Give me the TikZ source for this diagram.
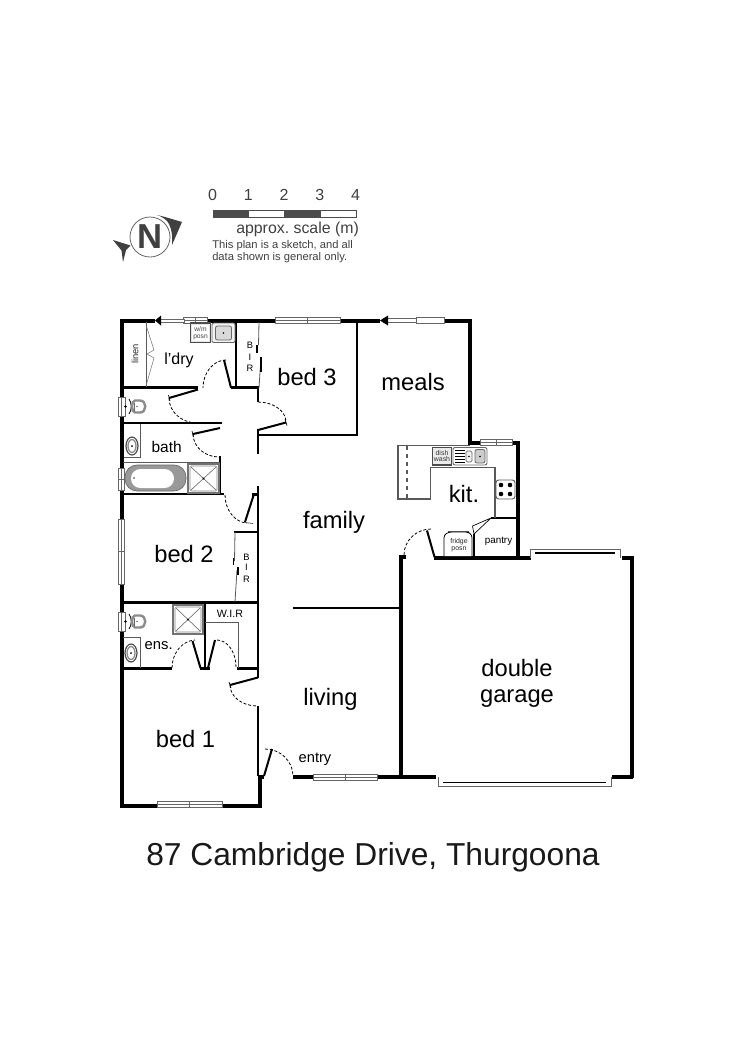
\documentclass[tikz,border=0pt]{standalone}
\usepackage{fontspec}
\setmainfont{Liberation Sans}
\usetikzlibrary{calc}
\newcommand{\fsz}[1]{\fontsize{#1}{#1}\selectfont}
\newcommand{\winh}[3]{% x1 x2 y
  \draw[winline,fill=white] (#1,#3-3) rectangle (#2,#3+3);
  \draw[winline,line width=.35pt] (#1,#3)--(#2,#3);
  \draw[winline] ({(#1+#2)/2},#3-3)--({(#1+#2)/2},#3+3);}
\newcommand{\winv}[3]{% y1 y2 x
  \draw[winline,fill=white] (#3-3,#1) rectangle (#3+3,#2);
  \draw[winline,line width=.35pt] (#3,#1)--(#3,#2);
  \draw[winline] (#3-3,{(#1+#2)/2})--(#3+3,{(#1+#2)/2});}
\newcommand{\swingarc}[3]{\draw[swing] (#1) .. controls ($(#1)!.55!(#2)$) and ($(#3)!.55!(#2)$) .. (#3);}
\newcommand{\wctoilet}[1]{% y-top of the unit; frame and pan
  \begin{scope}[shift={(0,#1)}]
  \draw[winline,fill=white] (118,0) rectangle (125,19);
  \draw[winline,line width=.4pt] (121.5,0)--(121.5,19);
  \fill[black] (125.5,9.5) circle (1.4);
  \draw[black,line width=.6pt] (129,2) .. controls (132,6) and (132,13) .. (129,17);
  \draw[black!45,line width=1.8pt,fill=white] (135,3.5) -- (140,3.5) .. controls (147,3.5) and (147,15.5) .. (140,15.5) -- (135,15.5) .. controls (131,15.5) and (131,3.5) .. cycle;
  \fill[black!55] (137,9.5) circle (.8);
  \draw[black!60,line width=.5pt] (134,5.5) -- (134,13.5);
  \end{scope}}
\newcommand{\basin}[2]{%
  \draw[black!70,line width=.9pt] (#1,#2) ellipse (6 and 9);
  \draw[black!45,line width=1pt] (#1,#2) ellipse (4 and 6.5);
  \fill[black] (#1,#2) circle (1);}
\newcommand{\showerbox}[4]{%
  \draw[line width=1.3pt,draw=black!55,fill=white] (#1,#2) rectangle (#3,#4);
  \draw[black!50,line width=.4pt,rounded corners=1pt] (#1+2,#2+2) rectangle (#3-2,#4-2);
  \draw[black!65,line width=.4pt] (#1+3,#2+3)--(#3-3,#4-3) (#3-3,#2+3)--(#1+3,#4-3);
  \fill[black] ({(#1+#3)/2},{(#2+#4)/2}) circle (1);}
\tikzset{
  outerwall/.style={line width=3pt,black,line cap=butt},
  innerwall/.style={line width=1.9pt,black,line cap=butt},
  leaf/.style={line width=1.5pt,black},
  swing/.style={line width=.6pt,black,dash pattern=on 2.2pt off 1.4pt},
  winline/.style={line width=.5pt,black!60},
  fix/.style={line width=.6pt,black!65},
  roomlabel/.style={inner sep=0pt,font=\fsz{17.8}},
  smalllabel/.style={inner sep=0pt,font=\fsz{10.5}},
  tinylabel/.style={inner sep=0pt,font=\fsz{5},black!75,align=center},
  maptext/.style={inner sep=0pt,black!75},
}
\begin{document}
\frenchspacing
\begin{tikzpicture}[x=0.75pt,y=-0.75pt]
\useasboundingbox[fill=white] (0,0) rectangle (750,1061);

% --- scale
\foreach \i/\c in {0/black!70,1/white,2/black!70,3/white}{
  \draw[black!70,line width=.5pt,fill=\c] ({213+\i*35.75},210.5) rectangle ({213+(\i+1)*35.75},217);}
\foreach \i in {0,1,2,3,4}{
  \node[maptext,font=\fsz{12}] (sc\i) at ({212.5+\i*35.75},195) {\i};}
\node[maptext,font=\fsz{11.9},anchor=west] (approx) at (236,229.5) {approx. scale (m)};
\node[maptext,font=\fsz{8.4},anchor=west] (note1) at (212,245.5) {This plan is a sketch, and all};
\node[maptext,font=\fsz{8.4},anchor=west] (note2) at (212,257.5) {data shown is general only.};

% --- north
\draw[black!60,line width=.6pt] (150,237) circle (20);
\node[inner sep=0pt,font=\fsz{26}\bfseries,black!75] (north) at (150,237) {N};
\fill[black!75] (157,215) .. controls (166,217) and (175,220) .. (182,222) -- (172,245) .. controls (173,235) and (171,226) .. (167,221) .. controls (164,218) and (160,216) .. cycle;
\fill[black!75] (113,240) -- (130.5,245.5) -- (126,250) -- (123,262) -- (121.5,250.5) -- cycle;

% --- outer walls
\draw[outerwall] (155,320.5) -- (121.5,320.5) -- (121.5,805.5) -- (259.5,805.5) -- (259.5,776);
\draw[outerwall] (207,320.5) -- (380,320.5);
\draw[outerwall] (444,320.5) -- (470,320.5) -- (470,444);
\draw[outerwall] (468,442.5) -- (519,442.5);
\draw[outerwall] (518,441) -- (518,559.5);
\draw[outerwall] (434,558) -- (531,558);
\draw[outerwall] (622,558) -- (631.5,558) -- (631.5,778);
\draw[outerwall] (633,777) -- (612,777);
\draw[outerwall] (436,777) -- (293,777);
\draw[outerwall] (400.5,777) -- (400.5,556.5) -- (405.5,556.5);
\draw[outerwall] (258,777) -- (264,777);

% --- interior walls
\draw[innerwall] (236,321) -- (236,388) (231,387.7) -- (259,387.7);
\draw[innerwall] (258,387) -- (258,402);
\draw[innerwall] (258,429) -- (258,453.5);
\draw[innerwall] (258,486) -- (258,602) ;
\draw[innerwall] (258,602) -- (258,677.5);
\draw[innerwall] (258,706) -- (258,776);
\draw[innerwall] (259,435) -- (357,435) -- (357,321);
\draw[innerwall] (121,387.7) -- (198,387.7);
\draw[innerwall] (121,423) -- (222,423);
\draw[innerwall] (220,456) -- (220,495);
\draw[innerwall] (121,494) -- (224,494);
\draw[innerwall] (234,532) -- (259,532);
\draw[innerwall] (121,602.7) -- (259,602.7);
\draw[innerwall] (205,602) -- (205,669);
\draw[innerwall] (121,668.5) -- (172,668.5);
\draw[innerwall] (200,668.5) -- (210,668.5);
\draw[innerwall] (237,668.5) -- (259,668.5);
\draw[innerwall] (293,608) -- (400,608);
\draw[innerwall] (491,518) -- (518,518);
\draw[innerwall] (474,534) -- (474,558);
\draw[innerwall] (252,494.5) -- (258,494.5);

% --- windows
\winh{183}{207}{320.5}
\winh{275}{340}{320.5}
\winh{157}{222}{804.5}
\winh{313}{377}{777}
\winh{480}{512}{442.5}
\winv{519}{584}{121.5}
% sliding doors with arrows
\draw[winline,fill=white] (160,319) rectangle (184,322);
\fill[black] (155,320.5) -- (161,315.5) -- (161,325.5) -- cycle;
\draw[winline,fill=white] (383,318.5) rectangle (416,322.5);
\draw[winline,fill=white] (416,317.5) rectangle (444,323.5);
\fill[black] (380,320.5) -- (388,315.5) -- (388,325.5) -- cycle;
% garage doors
\draw[winline,line width=.7pt] (530.5,558) -- (530.5,549.5) -- (620.5,549.5) -- (620.5,558);
\draw[black,line width=1.2pt] (535,553) -- (615,553);
\draw[winline,line width=.7pt] (438.5,777) -- (438.5,786.5) -- (611.5,786.5) -- (611.5,777);
\draw[black,line width=1.2pt] (443,782.5) -- (606,782.5);

% --- doors
\draw[leaf] (231,387.7) -- (224,360);
\swingarc{226,360}{203,360}{203,388}
\draw[leaf] (198,389.5) -- (169,398);
\draw[line width=.5pt] (168.5,395)--(170,401);
\swingarc{169,398}{169,423}{197,423}
\draw[leaf] (220,428) -- (193,434);
\draw[line width=.5pt] (192,431)--(193.5,437);
\swingarc{193,434}{193,457}{219,457}
\draw[leaf] (258,430) -- (286,422.5);
\draw[line width=.5pt] (285,419.5)--(287,425.5);
\swingarc{258,402}{286,402}{286,422}
\draw[leaf] (254,494) -- (245,522);
\swingarc{225,495}{225,522}{247,523}
\draw[line width=.5pt,black!70] (245,522.5)--(253,523.5);
\draw[leaf] (258,677.5) -- (230,685);
\draw[line width=.5pt] (229,682)--(231,688);
\swingarc{230,685}{230,706}{257,706}
\draw[leaf] (272,749) -- (264,776);
\swingarc{265,749}{293,749}{293,776}
\draw[leaf] (200.5,668) -- (192.5,641);
\swingarc{172,668}{172,641}{195,640}
\draw[leaf] (208,668) -- (215,640);
\swingarc{217,640}{236,640}{236,667}
\draw[leaf] (434.5,557) -- (427,530.5);
\swingarc{431,529}{404,529}{404,555}

% --- laundry, linen
\draw[fix] (146,322) -- (146,387);
\draw[black!55,line width=.4pt] (146,325) -- (154,350) -- (147,354) (146,386) -- (154,358) -- (147,354);
\draw[draw=black!70,line width=1pt,fill=black!10] (190.5,323) rectangle (210.5,342.5);
\fill[white] (192,324.5) rectangle (209,341);
\node[tinylabel,font=\fsz{5}] (wm) at (200.5,333) {w/m\\posn};
\draw[black!60,line width=.7pt,fill=black!5,rounded corners=1pt] (212,323) rectangle (235,342.5);
\draw[black!60,line width=.6pt,fill=black!15,rounded corners=1.5pt] (215.5,326) rectangle (231.5,340);
\fill[black] (223.5,333) circle (.8);
\node[inner sep=0pt,font=\fsz{7},black!85,rotate=90] (linen) at (135,354) {linen};
\node[smalllabel,font=\fsz{12}] (ldry) at (179,360) {l'dry};
\node[inner sep=0pt,font=\fsz{7}] (bira) at (250,345) {B};
\node[inner sep=0pt,font=\fsz{7}] (birb) at (250,357) {I};
\node[inner sep=0pt,font=\fsz{7}] (birc) at (250,368) {R};
\draw[fix] (259,322) -- (258.5,345) (261,357) -- (259,388);
\draw[black,line width=.8pt] (257,345) -- (257,353) (261,357) -- (261,372);

% --- toilets
\wctoilet{397}
\wctoilet{612}

% --- bath
\draw[fix] (140,424) -- (140,457) -- (124,457);
\basin{132}{446}
\node[smalllabel,font=\fsz{11.6}] (bath) at (166.7,447) {bath};
\draw[fix] (123,462.5) -- (220,462.5);
\winv{468}{490}{121.5}
\draw[black!60,fill=black!40,line width=.5pt,rounded corners=9pt] (125,465) rectangle (186,491);
\fill[white,rounded corners=7pt] (131,469) rectangle (174,488);
\fill[black!55] (134,478) circle (1.2);
\showerbox{188}{464}{219}{493}

% --- bed 2, ensuite
\node[roomlabel] (bed2) at (184,554) {bed 2};
\draw[fix] (235,532) -- (234.5,561) (237,570) -- (235,602);
\draw[black,line width=.8pt] (233.5,558) -- (233.5,565) (238,567) -- (238,575);
\node[inner sep=0pt,font=\fsz{7}] (birh) at (246.5,557) {B};
\node[inner sep=0pt,font=\fsz{7}] (biri) at (246.5,567) {I};
\node[inner sep=0pt,font=\fsz{7}] (birj) at (246.5,579) {R};
\showerbox{173}{605}{203}{634}
\draw[fix] (205,622) -- (238.5,622) -- (238.5,668);
\node[inner sep=0pt,font=\fsz{8}] (wir) at (230,614) {W.I.R};
\draw[fix] (123,637) -- (140,637) -- (140,668);
\basin{131}{653}
\node[smalllabel,font=\fsz{11.1}] (ens) at (158.7,646) {ens.};

% --- kitchen
\draw[fix,line width=.8pt] (470,445.5) -- (398,445.5) -- (398,499) -- (430.5,499) -- (430.5,467.5) -- (495,467.5) -- (495,518);
\draw[fix,dashed,line width=.8pt] (407,446) -- (407,499);
\draw[black!70,line width=1pt,fill=black!8] (432.5,447.5) rectangle (451.5,465);
\node[tinylabel,font=\fsz{5.2},black!80] (dish) at (442,456) {dish\\wash};
\draw[black!60,line width=.7pt,fill=white,rounded corners=1.5pt] (453,447.5) rectangle (487,465);
\foreach \yy in {450,453,456,459,462}{\draw[black,line width=.6pt] (455,\yy) -- (465,\yy);}
\draw[black!60,line width=.6pt,fill=black!5,rounded corners=1pt] (466,451) rectangle (472,462);
\fill[black] (469,456.5) circle (.9);
\draw[black!60,line width=.6pt,fill=black!20,rounded corners=1.5pt] (475,449.5) rectangle (485,463);
\fill[black] (480,456.5) circle (.9);
\draw[black!65,line width=.7pt,rounded corners=2pt] (496,480) rectangle (515,499);
\foreach \xx/\yy in {501/485,510/485,501/494,510/494}{\fill[black] (\xx,\yy) circle (2.3);}
\draw[black,line width=.6pt,fill=white,rounded corners=2pt] (444,556) -- (444,535) -- (449,532) -- (468,532) -- (472,535) -- (472,556);
\draw[black!70,line width=1.1pt] (448,531.5) -- (469,531.5);
\node[tinylabel,font=\fsz{5.2},black!85] (fridge) at (459,545) {fridge\\posn};
\draw[black,line width=.5pt] (491,518) -- (472.5,526) -- (474,534) -- cycle;
\node[inner sep=0pt,font=\fsz{7.4}] (pantry) at (498.5,541) {pantry};

% --- room labels
\node[roomlabel] (bed3) at (307,377) {bed 3};
\node[roomlabel] (meals) at (413,382) {meals};
\node[roomlabel] (kit) at (464,494) {kit.};
\node[roomlabel] (family) at (334,522) {family};
\node[roomlabel] (living) at (330.5,699) {living};
\node[roomlabel] (bed1) at (185.5,739) {bed 1};
\node[smalllabel,font=\fsz{11}] (entry) at (315,759) {entry};
\node[roomlabel,align=center] (garage) at (517,683.5) {double\\[2pt]garage};

% --- title
\node[inner sep=0pt,font=\fsz{23.8},black!90] (title) at (373,857) {87 Cambridge Drive, Thurgoona};
\end{tikzpicture}
\end{document}
